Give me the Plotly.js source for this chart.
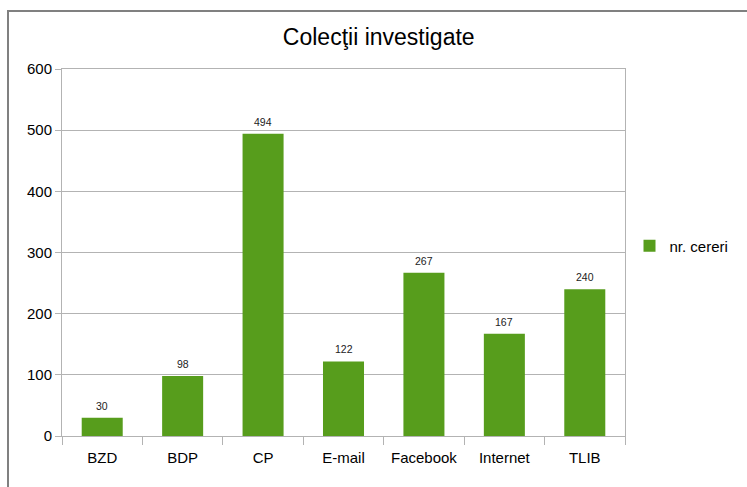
<!DOCTYPE html>
<html>
<head>
<meta charset="utf-8">
<script src="https://cdn.plot.ly/plotly-3.0.1.min.js"></script>
<style>
html,body{margin:0;padding:0;background:#fff;}
#wrap{position:relative;width:747px;height:487px;overflow:hidden;}
#chart{position:absolute;left:0;top:0;width:747px;height:487px;}
#frame{position:absolute;left:7px;top:10px;width:900px;height:700px;border-top:2px solid #808080;border-left:2px solid #808080;pointer-events:none;}
</style>
</head>
<body>
<div id="wrap"><div id="chart"></div><div id="frame"></div></div>
<script>
const categories = ["BZD", "BDP", "CP", "E-mail", "Facebook", "Internet", "TLIB"];
const values = [30, 98, 494, 122, 267, 167, 240];
const seriesName = "nr. cereri";
const chartTitle = "Colecţii investigate";
const yTicks = [0, 100, 200, 300, 400, 500, 600];

const FONT = "Liberation Sans, Arial, sans-serif";

const trace = {
  type: "bar",
  x: categories,
  y: values,
  name: seriesName,
  marker: {color: "#579d1c"},
  showlegend: true
};

const labels = categories.map((c, i) => ({
  x: c, y: values[i], xref: "x", yref: "y",
  text: String(values[i]), showarrow: false,
  yanchor: "bottom", yshift: 4,
  font: {family: FONT, size: 10.5, color: "#222"}
}));

const gray = "#b3b3b3";
const layout = {
  width: 747, height: 487,
  margin: {l: 62, r: 122, t: 69, b: 51},
  paper_bgcolor: "#fff", plot_bgcolor: "#fff",
  font: {family: FONT, size: 15, color: "#000"},
  title: {text: chartTitle, x: 0.507, xanchor: "center", y: 0.925, yanchor: "middle",
          font: {family: FONT, size: 23, color: "#000"}},
  bargap: 0.49,
  annotations: labels,
  xaxis: {
    type: "category",
    showline: true, linecolor: gray, linewidth: 1, mirror: true,
    ticks: "outside", tickson: "boundaries", ticklen: 8, tickcolor: gray, tickwidth: 1,
    ticklabelstandoff: 8,
    showgrid: false, zeroline: false,
    tickfont: {family: FONT, size: 15, color: "#000"}
  },
  yaxis: {
    range: [0, 600], tickvals: yTicks,
    showline: true, linecolor: gray, linewidth: 1, mirror: true,
    ticks: "outside", ticklen: 6, tickcolor: gray, tickwidth: 1,
    showgrid: true, gridcolor: gray, gridwidth: 1, zeroline: false,
    tickfont: {family: FONT, size: 15, color: "#000"}
  },
  showlegend: true,
  legend: {x: 1.008, xanchor: "left", y: 0.518, yanchor: "middle",
           font: {family: FONT, size: 15, color: "#000"}, bgcolor: "rgba(0,0,0,0)", borderwidth: 0}
};

Plotly.newPlot("chart", [trace], layout, {displayModeBar: false, staticPlot: true});
</script>
</body>
</html>
